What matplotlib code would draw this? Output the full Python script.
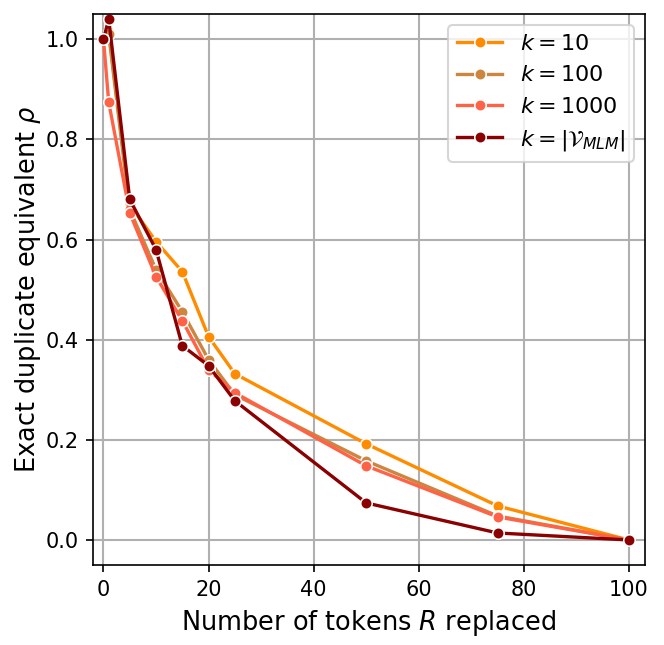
import matplotlib
matplotlib.use("Agg")
import matplotlib.pyplot as plt

R = [0, 1, 5, 10, 15, 20, 25, 50, 75, 100]
k10 = [1.0, 1.015, 0.67, 0.596, 0.536, 0.406, 0.332, 0.192, 0.068, 0.0]
k100 = [1.0, 1.01, 0.66, 0.54, 0.456, 0.36, 0.29, 0.158, 0.048, 0.0]
k1000 = [1.0, 0.874, 0.653, 0.526, 0.438, 0.34, 0.294, 0.148, 0.046, 0.0]
kfull = [1.0, 1.04, 0.68, 0.58, 0.388, 0.348, 0.278, 0.074, 0.014, 0.0]

labels = [r"$k=10$", r"$k=100$", r"$k=1000$", r"$k=|\mathcal{V}_{MLM}|$"]
colors = ["#FF8C00", "#CD853F", "#FF6347", "#8B0000"]
series = [k10, k100, k1000, kfull]

fig = plt.figure(figsize=(664/150, 645/150), dpi=150)
ax = fig.add_axes([0.14, 0.124, 0.831, 0.854])
for ys, c, lab in zip(series, colors, labels):
    ax.plot(R, ys, color=c, marker="o", markersize=5.5, markeredgecolor="white",
            markeredgewidth=0.75, linewidth=1.6, label=lab)
ax.set_xlim(-2, 103)
ax.set_ylim(-0.05, 1.05)
ax.grid(True, color="#b0b0b0", linewidth=1.0)
ax.set_axisbelow(True)
ax.set_xlabel(r"Number of tokens $R$ replaced", fontsize=12.3)
ax.set_ylabel(r"Exact duplicate equivalent $\rho$", fontsize=12.3, labelpad=1)
ax.tick_params(labelsize=10)
ax.legend(loc="upper right", fontsize=10.7)
fig.savefig("out.png", dpi=150)
